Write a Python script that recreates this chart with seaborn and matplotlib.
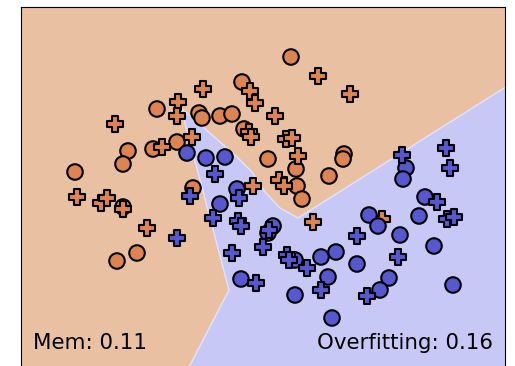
import numpy as np
import pandas as pd
import matplotlib
matplotlib.use("Agg")
import matplotlib.pyplot as plt
import seaborn as sns

# points (x right, y down)
orange_circle_x = [291, 242, 157, 199, 202, 220, 232, 244, 128, 153, 177, 123, 75, 268,
                   344, 343, 296, 329, 193, 123, 137, 117, 297, 302]
orange_circle_y = [57, 82, 109, 113, 118, 116, 114, 129, 151, 149, 142, 164, 172, 159,
                   154, 159, 169, 176, 188, 207, 253, 261, 186, 199]

orange_plus_x = [203, 178, 177, 115, 192, 162, 318, 350, 250, 255, 275, 249, 251, 286,
                 292, 298, 279, 284, 253, 313, 382, 77, 101, 107, 123, 147]
orange_plus_y = [89, 102, 116, 124, 137, 147, 76, 94, 91, 103, 116, 132, 137, 139,
                 138, 156, 180, 186, 186, 222, 219, 197, 203, 198, 209, 228]

blue_circle_x = [187, 206, 225, 220, 237, 273, 268, 241, 295, 321, 336, 328, 295, 357,
                 332, 406, 403, 425, 369, 378, 419, 400, 434, 389, 380, 453]
blue_circle_y = [153, 158, 157, 204, 189, 226, 233, 279, 260, 257, 252, 277, 295, 264,
                 318, 168, 179, 197, 215, 226, 216, 235, 246, 278, 290, 285]

blue_plus_x = [215, 190, 239, 213, 238, 241, 269, 232, 263, 287, 289, 307, 256, 321,
               357, 177, 402, 446, 450, 437, 447, 454, 398, 367]
blue_plus_y = [174, 196, 198, 218, 221, 226, 230, 253, 247, 255, 260, 268, 283, 290,
               236, 238, 155, 148, 168, 202, 219, 217, 257, 296]

# decision region of the blue class (outline)
region_x = [181, 203, 237, 252, 265, 280, 298, 520, 520, 172, 229, 181]
region_y = [108, 127, 157, 172, 192, 208, 218, 78, 400, 400, 290, 108]

mem_score = 0.11
overfit_score = 0.16

orange = "#DD8452"
blue = "#5757D0"

frames = []
for xs, ys, cls, kind in [(orange_circle_x, orange_circle_y, "a", "train"),
                          (orange_plus_x, orange_plus_y, "a", "test"),
                          (blue_circle_x, blue_circle_y, "b", "train"),
                          (blue_plus_x, blue_plus_y, "b", "test")]:
    frames.append(pd.DataFrame({"x": xs, "y": ys, "cls": cls, "kind": kind}))
df = pd.concat(frames, ignore_index=True)

fig = plt.figure(figsize=(5.15, 3.66), dpi=100)
ax = fig.add_axes([21 / 515, 1 - 380 / 366, 484 / 515, 373 / 366])
ax.set_facecolor("#E9C1A2")
ax.fill(region_x, region_y, color="#C8C8F6", zorder=0)
ax.plot(region_x, region_y, color="white", alpha=0.5, lw=1, zorder=0.5)

sns.scatterplot(data=df, x="x", y="y", hue="cls", style="kind",
                palette={"a": orange, "b": blue},
                markers={"train": "o", "test": "P"},
                s=125, edgecolor="black", linewidth=1.5, legend=False, ax=ax, zorder=3)

ax.set_xlim(21, 505)
ax.set_ylim(380, 7)
ax.set_xticks([])
ax.set_yticks([])
ax.set_xlabel("")
ax.set_ylabel("")

ax.text(33, 349, f"Mem: {mem_score:.2f}", fontsize=15.4, va="baseline", ha="left")
ax.text(493, 349, f"Overfitting: {overfit_score:.2f}", fontsize=15.4, va="baseline", ha="right")

fig.savefig("out.png", dpi=100)
